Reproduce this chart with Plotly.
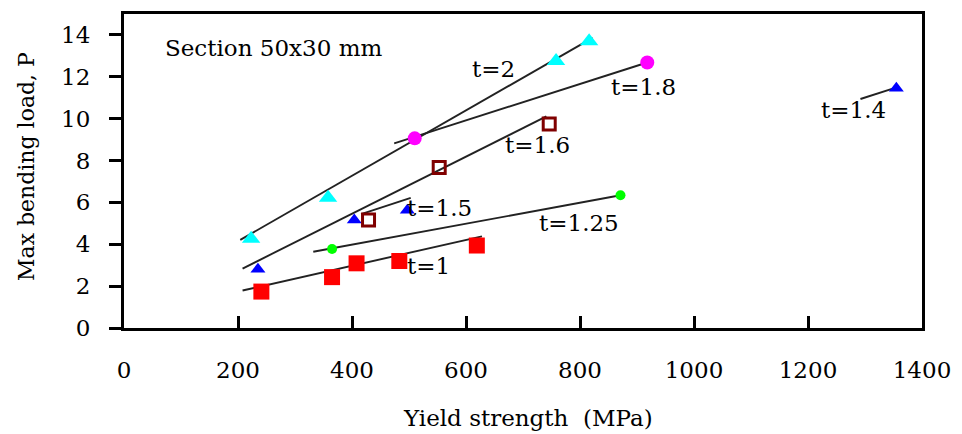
import plotly.graph_objects as go

# Measured points: yield strength (MPa) vs max bending load P, per wall thickness t
t1_x = [241, 365, 408, 483, 619]
t1_y = [1.74, 2.43, 3.09, 3.20, 3.94]

t125_x = [365, 871]
t125_y = [3.77, 6.34]

t15_x = [235, 404, 497]
t15_y = [2.81, 5.16, 5.63]

t14_x = [1355]
t14_y = [11.45]

t16_x = [429, 553, 746]
t16_y = [5.16, 7.67, 9.75]

t18_x = [510, 918]
t18_y = [9.06, 12.68]

t2_x = [223, 358, 758, 816]
t2_y = [4.26, 6.22, 12.76, 13.70]

# Fitted trend lines (end points)
fit_t1_x, fit_t1_y = [208, 628], [1.79, 4.38]
fit_t125_x, fit_t125_y = [332, 871], [3.64, 6.34]
fit_t15_x, fit_t15_y = [416, 503], [5.44, 6.22]
fit_t16_x, fit_t16_y = [208, 741], [2.84, 10.11]
fit_t18_x, fit_t18_y = [474, 922], [8.82, 12.72]
fit_t2_x, fit_t2_y = [204, 822], [4.21, 13.86]
fit_t14_x, fit_t14_y = [1292, 1350], [10.94, 11.45]

x_ticks = [0, 200, 400, 600, 800, 1000, 1200, 1400]
y_ticks = [0, 2, 4, 6, 8, 10, 12, 14]

FONT = "DejaVu Serif"

fig = go.Figure()

for fx, fy in [(fit_t1_x, fit_t1_y), (fit_t125_x, fit_t125_y), (fit_t15_x, fit_t15_y),
               (fit_t16_x, fit_t16_y), (fit_t18_x, fit_t18_y), (fit_t2_x, fit_t2_y),
               (fit_t14_x, fit_t14_y)]:
    fig.add_trace(go.Scatter(x=fx, y=fy, mode="lines",
                             line=dict(color="#222222", width=1.9),
                             showlegend=False, hoverinfo="skip"))

series = [
    (t1_x, t1_y, dict(symbol="square", size=16, color="#ff0000")),
    (t125_x, t125_y, dict(symbol="circle", size=10, color="#00ff00")),
    (t15_x, t15_y, dict(symbol="triangle-up", size=13, color="#0000ff")),
    (t14_x, t14_y, dict(symbol="triangle-up", size=13, color="#0000ff")),
    (t16_x, t16_y, dict(symbol="square-open", size=12, color="#800000",
                        line=dict(color="#800000", width=3))),
    (t18_x, t18_y, dict(symbol="circle", size=14, color="#ff00ff")),
    (t2_x, t2_y, dict(symbol="triangle-up", size=16, color="#00ffff")),
]
for sx, sy, mk in series:
    fig.add_trace(go.Scatter(x=sx, y=sy, mode="markers", marker=mk,
                             showlegend=False))

labels = [
    ("t=2", 648, 12.35),
    ("t=1.8", 912, 11.52),
    ("t=1.6", 725, 8.73),
    ("t=1.4", 1280, 10.43),
    ("t=1.25", 798, 5.04),
    ("t=1.5", 554, 5.75),
    ("t=1", 535, 2.97),
    ("Section 50x30 mm", 262, 13.37),
]
for txt, ax_, ay_ in labels:
    fig.add_annotation(x=ax_, y=ay_, xref="x", yref="y", text=txt,
                       showarrow=False, font=dict(family=FONT, size=23, color="black"))

fig.add_annotation(x=-0.14, y=0.515, xref="paper", yref="paper",
                   text="Max bending load, P", textangle=-90, showarrow=False,
                   font=dict(family=FONT, size=22, color="black"))
fig.add_annotation(x=0.506, y=-0.335, xref="paper", yref="paper",
                   text="Yield strength  (MPa)", showarrow=False,
                   font=dict(family=FONT, size=23, color="black"))

fig.update_layout(
    width=962, height=434,
    margin=dict(l=124, r=32, t=11, b=106),
    paper_bgcolor="white", plot_bgcolor="white",
    font=dict(family=FONT, size=23, color="black"),
    showlegend=False,
)
fig.update_xaxes(range=[0, 1400], tickvals=x_ticks, ticktext=[str(v) for v in x_ticks],
                 ticks="inside", ticklen=12, tickwidth=2.5, tickcolor="black",
                 showline=True, linewidth=2.5, linecolor="black", mirror=True,
                 showgrid=False, zeroline=False, ticklabelstandoff=20,
                 tickfont=dict(family=FONT, size=23))
fig.update_yaxes(range=[0, 15], tickvals=y_ticks, ticktext=[str(v) for v in y_ticks],
                 ticks="outside", ticklen=12, tickwidth=2.5, tickcolor="black",
                 showline=True, linewidth=3, linecolor="black", mirror=True,
                 showgrid=False, zeroline=False, ticklabelstandoff=14,
                 tickfont=dict(family=FONT, size=23))

fig.write_html("out.html")
